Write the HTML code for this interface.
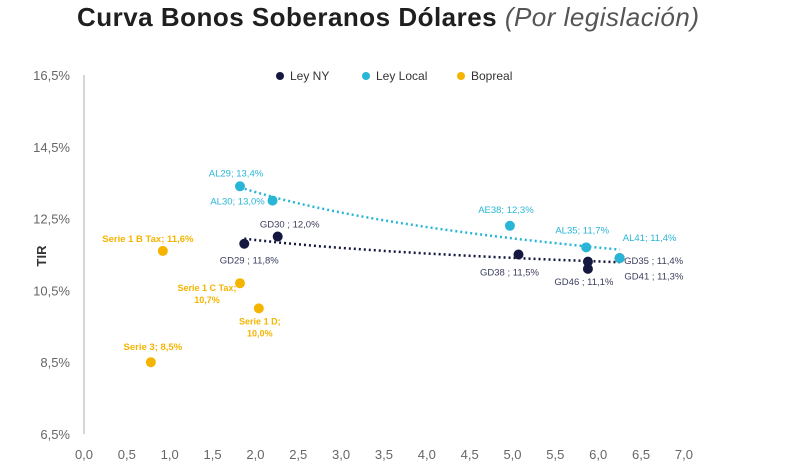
<!DOCTYPE html>
<html><head><meta charset="utf-8"><style>
body{margin:0;background:#fff;width:800px;height:468px;overflow:hidden;font-family:"Liberation Sans",sans-serif}
</style></head><body>
<svg width="800" height="468">
<text x="77" y="26" font-size="26" font-weight="bold" fill="#1f1f1f" textLength="622">Curva Bonos Soberanos Dólares <tspan font-weight="normal" font-style="italic" fill="#555">(Por legislación)</tspan></text>
<g id="axes"></g><g id="marks"></g>
<g font-size="12" fill="#333">
<circle cx="280" cy="76" r="4" fill="#14173f"/><text x="290" y="80">Ley NY</text>
<circle cx="366" cy="76" r="4" fill="#29b6d6"/><text x="376" y="80">Ley Local</text>
<circle cx="461" cy="76" r="4" fill="#f5b400"/><text x="471" y="80">Bopreal</text>
</g>
<text transform="translate(46,256) rotate(-90)" font-size="13" font-weight="bold" text-anchor="middle" fill="#333">TIR</text>
</svg>
<script>
const xTicks=[0,0.5,1,1.5,2,2.5,3,3.5,4,4.5,5,5.5,6,6.5,7];
const yTicks=[6.5,8.5,10.5,12.5,14.5,16.5];
const nyNames=["GD29","GD30","GD38","GD46","GD41","GD35"];
const nyX=[1.87,2.26,5.07,5.88,5.88,6.25];
const nyY=[11.8,12.0,11.5,11.1,11.3,11.4];
const locNames=["AL29","AL30","AE38","AL35","AL41"];
const locX=[1.82,2.2,4.97,5.86,6.25];
const locY=[13.4,13.0,12.3,11.7,11.4];
const bopNames=["Serie 1 B Tax","Serie 1 C Tax","Serie 1 D","Serie 3"];
const bopX=[0.92,1.82,2.04,0.78];
const bopY=[11.6,10.7,10.0,8.5];
const X=v=>84+v*85.7, Y=v=>434-(v-6.5)*35.9;
const NS="http://www.w3.org/2000/svg";
const ax=document.getElementById('axes'), mk=document.getElementById('marks');
function el(t,a,p,txt){const e=document.createElementNS(NS,t);for(const k in a)e.setAttribute(k,a[k]);if(txt!==undefined)e.textContent=txt;p.appendChild(e);return e;}
const yl=el('line',{x1:84,y1:Y(16.5),x2:84,y2:Y(6.5),stroke:'#c8c8c8','stroke-width':1.5},ax);


yTicks.forEach(v=>{const t=el('text',{x:70,y:Y(v)+5,'font-size':13,'text-anchor':'end',fill:'#666'},ax,v.toFixed(1).replace('.',',')+'%');

});
xTicks.forEach(v=>{const t=el('text',{x:X(v),y:459,'font-size':13,'text-anchor':'middle',fill:'#666'},ax,v.toFixed(1).replace('.',','));

});
function trend(xs,ys,color,name){const n=xs.length;let sx=0,sy=0,sxx=0,sxy=0;xs.forEach((x,i)=>{const l=Math.log(x);sx+=l;sy+=ys[i];sxx+=l*l;sxy+=l*ys[i];});
const b=(n*sxy-sx*sy)/(n*sxx-sx*sx),a=(sy-b*sx)/n;const x0=Math.min(...xs),x1=Math.max(...xs);let d='';
for(let i=0;i<=40;i++){const x=x0+(x1-x0)*i/40;d+=(i?'L':'M')+X(x).toFixed(1)+','+Y(a+b*Math.log(x)).toFixed(1);}
const p=el('path',{d:d,fill:'none',stroke:color,'stroke-width':2.5,'stroke-dasharray':'2 3'},mk);

}
trend(locX,locY,'#29b6d6','ley-local-trendline');
trend(nyX,nyY,'#14173f','ley-ny-trendline');
function pts(names,xs,ys,color,lc,offs,series){names.forEach((n,i)=>{const c=el('circle',{cx:X(xs[i]),cy:Y(ys[i]),r:5,fill:color},mk);


const o=offs[i];const lbl=o[2]?[n+';',ys[i].toFixed(1).replace('.',',')+'%']:[n+(series==='ley-ny'?' ; ':'; ')+ys[i].toFixed(1).replace('.',',')+'%'];
lbl.forEach((s,j)=>{const t=el('text',{x:X(xs[i])+o[0],y:Y(ys[i])+o[1]+j*12,'font-size':o[2]?9:9.5,'text-anchor':'middle',fill:lc,'font-weight':series==='bopreal'?'bold':'normal'},mk,s);

});});}
pts(nyNames,nyX,nyY,'#14173f','#3a3d5c',[[5,20],[12,-9],[-9,21],[-4,16],[66,18],[34,6]],'ley-ny');
pts(locNames,locX,locY,'#29b6d6','#29b6d6',[[-4,-10],[-35,4],[-4,-13],[-4,-14],[30,-17]],'ley-local');
pts(bopNames,bopX,bopY,'#f5b400','#f5b400',[[-15,-9],[-33,8,1],[1,16,1],[2,-12]],'bopreal');
</script>
</body></html>
